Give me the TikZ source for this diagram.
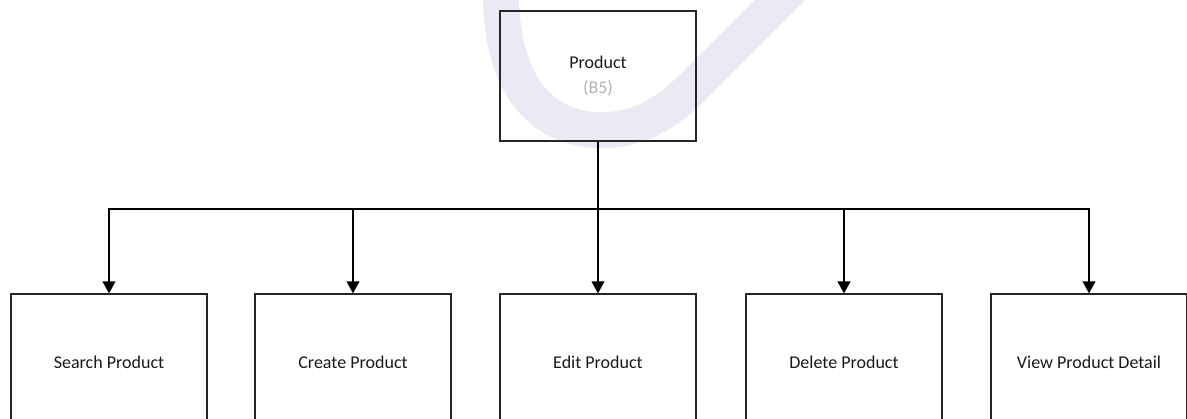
\documentclass[tikz,border=0pt]{standalone}
\usepackage{fontspec}
\setmainfont{Carlito}
\usetikzlibrary{arrows.meta,calc}
\definecolor{wmark}{RGB}{236,232,244}
\definecolor{subtext}{RGB}{178,178,178}
\begin{document}
\begin{tikzpicture}[x=0.75pt,y=-0.75pt,
  box/.style={draw=black!85,line width=0.9pt,minimum width=196*0.75pt,
    inner sep=0pt,font=\fontsize{13.5}{18.5}\selectfont,align=center,
    text=black!90},
  parentbox/.style={box,minimum height=130*0.75pt},
  childbox/.style={box,minimum height=136*0.75pt},
  conn/.style={line width=1.5pt,black},
  arr/.style={conn,-{Triangle[width=9.5pt,length=9pt]}}]
\useasboundingbox (0,0) rectangle (1187,418);
% faint emblem behind the chart
\draw[wmark,line width=27pt]
  (501,-10) .. controls (500,100) and (555,133) .. (608,130)
  .. controls (645,128) and (670,110) .. (697,83) -- (800,-20);
% parent
\node[parentbox] (top) at (598,76) {Product\\\textcolor{subtext}{(B5)}};
% children
\node[childbox] (c1) at (109,362) {Search Product};
\node[childbox] (c2) at (353,362) {Create Product};
\node[childbox] (c3) at (598,362) {Edit Product};
\node[childbox] (c4) at (844,362) {Delete Product};
\node[childbox] (c5) at (1089,362) {View Product Detail};
\coordinate (bus) at (598,209);
\foreach \c in {c1,c2,c3,c4,c5}
  \draw[arr] (top.south) -- (top.south |- bus) -| (\c.north);
\end{tikzpicture}
\end{document}
